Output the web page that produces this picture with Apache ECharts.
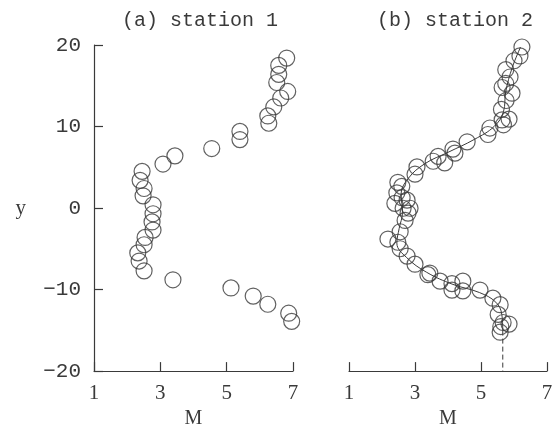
<!DOCTYPE html>
<html><head><meta charset="utf-8">
<script src="https://cdn.jsdelivr.net/npm/echarts@6/dist/echarts.min.js"></script>
<style>html,body{margin:0;padding:0;background:#fff}#c{width:556px;height:434px}</style>
</head><body><div id="c"></div>
<script>
// Panel (a) station 1: [M, y]
const station1 = [
  [6.81,18.4],[6.57,17.5],[6.57,16.4],[6.51,15.4],[6.84,14.3],[6.63,13.5],[6.42,12.4],
  [6.24,11.3],[6.27,10.4],[5.40,9.4],[5.40,8.4],[4.55,7.3],[3.44,6.4],[3.08,5.4],
  [2.45,4.5],[2.39,3.4],[2.51,2.4],[2.48,1.5],[2.78,0.4],[2.78,-0.7],[2.75,-1.7],
  [2.78,-2.7],[2.54,-3.6],[2.51,-4.5],[2.32,-5.5],[2.36,-6.5],[2.51,-7.7],[3.38,-8.8],
  [5.13,-9.8],[5.80,-10.8],[6.24,-11.8],[6.87,-12.9],[6.96,-13.9]
];
// Panel (b) station 2: [M, y]
const station2 = [
  [6.24,20.0],[6.18,18.9],[6.00,18.3],[5.75,17.2],[5.88,16.3],[5.75,15.5],[5.64,15.0],
  [5.94,14.3],[5.76,13.4],[5.62,12.3],[5.85,11.1],[5.64,11.0],[5.68,10.4],[5.27,10.0],
  [5.21,9.2],[4.58,8.3],[4.15,7.4],[4.21,6.9],[3.70,6.5],[3.55,5.9],[3.90,5.7],
  [3.06,5.2],[3.00,4.3],[2.48,3.3],[2.60,2.8],[2.45,2.0],[2.61,1.4],[2.76,1.1],
  [2.39,0.7],[2.85,0.1],[2.64,0.1],[2.79,-0.5],[2.70,-1.4],[2.55,-2.8],[2.18,-3.7],
  [2.48,-4.1],[2.55,-4.9],[2.76,-5.8],[3.00,-6.8],[3.45,-7.9],[3.39,-8.1],[3.76,-8.9],
  [4.12,-9.2],[4.45,-8.9],[4.12,-10.0],[4.45,-10.1],[4.97,-10.0],[5.36,-11.0],[5.58,-11.8],
  [5.52,-13.0],[5.67,-14.0],[5.85,-14.2],[5.58,-15.2],[5.60,-14.5]
];
// Fitted curve through station 2
const fit2 = [
  [6.20,20.0],[5.95,17.5],[5.75,14.5],[5.68,12.0],[5.40,10.2],[4.80,8.6],[4.00,7.0],
  [3.30,5.6],[2.80,3.8],[2.58,1.8],[2.62,-0.4],[2.52,-2.4],[2.45,-4.2],[2.75,-6.0],
  [3.35,-7.8],[4.15,-9.3],[4.95,-10.3],[5.45,-11.5],[5.63,-13.0],[5.66,-15.0]
];
const fitEnd = [[5.66,-15.0],[5.66,-20.0]];
const xTicks = [1,3,5,7];
const yTicks = [-20,-10,0,10,20];

const ink = '#3a3a3a';
const sym = {symbol:'circle', symbolSize:16, itemStyle:{color:'rgba(0,0,0,0)', borderColor:ink, borderWidth:1.2}};
const chart = echarts.init(document.getElementById('c'), null, {renderer:'canvas'});
function xAxis(idx){
  return {gridIndex:idx, type:'value', min:1, max:7, interval:2,
    axisLine:{onZero:false, lineStyle:{color:ink, width:1.2}},
    axisTick:{inside:true, length:9, lineStyle:{color:ink, width:1.2}},
    axisLabel:{color:ink, fontFamily:'Liberation Serif', fontSize:21, margin:12,
      formatter:v=>xTicks.includes(v)?String(v):''},
    splitLine:{show:false},
    name:'M', nameLocation:'middle', nameGap:36,
    nameTextStyle:{color:ink, fontFamily:'Liberation Serif', fontSize:20}};
}
chart.setOption({
  animation:false,
  backgroundColor:'#fff',
  title:[
    {text:'(a) station 1', left:195, top:6, textAlign:'center',
     textStyle:{color:ink, fontFamily:'Liberation Mono', fontSize:20, fontWeight:'normal'}},
    {text:'(b) station 2', left:450, top:6, textAlign:'center',
     textStyle:{color:ink, fontFamily:'Liberation Mono', fontSize:20, fontWeight:'normal'}}
  ],
  grid:[
    {left:94, top:45, width:199, height:331},
    {left:349, top:47, width:198, height:332}
  ],
  xAxis:[xAxis(0), xAxis(1)],
  yAxis:[
    {gridIndex:0, type:'value', min:-20, max:20, interval:10,
     axisLine:{onZero:false, lineStyle:{color:ink, width:1.2}},
     axisTick:{inside:true, length:9, lineStyle:{color:ink, width:1.2}},
     axisLabel:{color:ink, fontFamily:'Liberation Mono', fontSize:21, margin:13,
       formatter:v=>yTicks.includes(v)?String(v).replace('-','\u2212'):''},
     splitLine:{show:false},
     name:'y', nameLocation:'middle', nameRotate:0, nameGap:68,
     nameTextStyle:{color:ink, fontFamily:'Liberation Serif', fontSize:21}},
    {gridIndex:1, type:'value', min:-20, max:20, interval:10, show:false}
  ],
  series:[
    Object.assign({type:'scatter', xAxisIndex:0, yAxisIndex:0, data:station1}, sym),
    {type:'line', xAxisIndex:1, yAxisIndex:1, data:fit2, smooth:0.4, showSymbol:false,
     lineStyle:{color:ink, width:1}},
    {type:'line', xAxisIndex:1, yAxisIndex:1, data:fitEnd, showSymbol:false,
     lineStyle:{color:ink, width:1, type:[5,3]}},
    Object.assign({type:'scatter', xAxisIndex:1, yAxisIndex:1, data:station2}, sym)
  ]
});
</script></body></html>
